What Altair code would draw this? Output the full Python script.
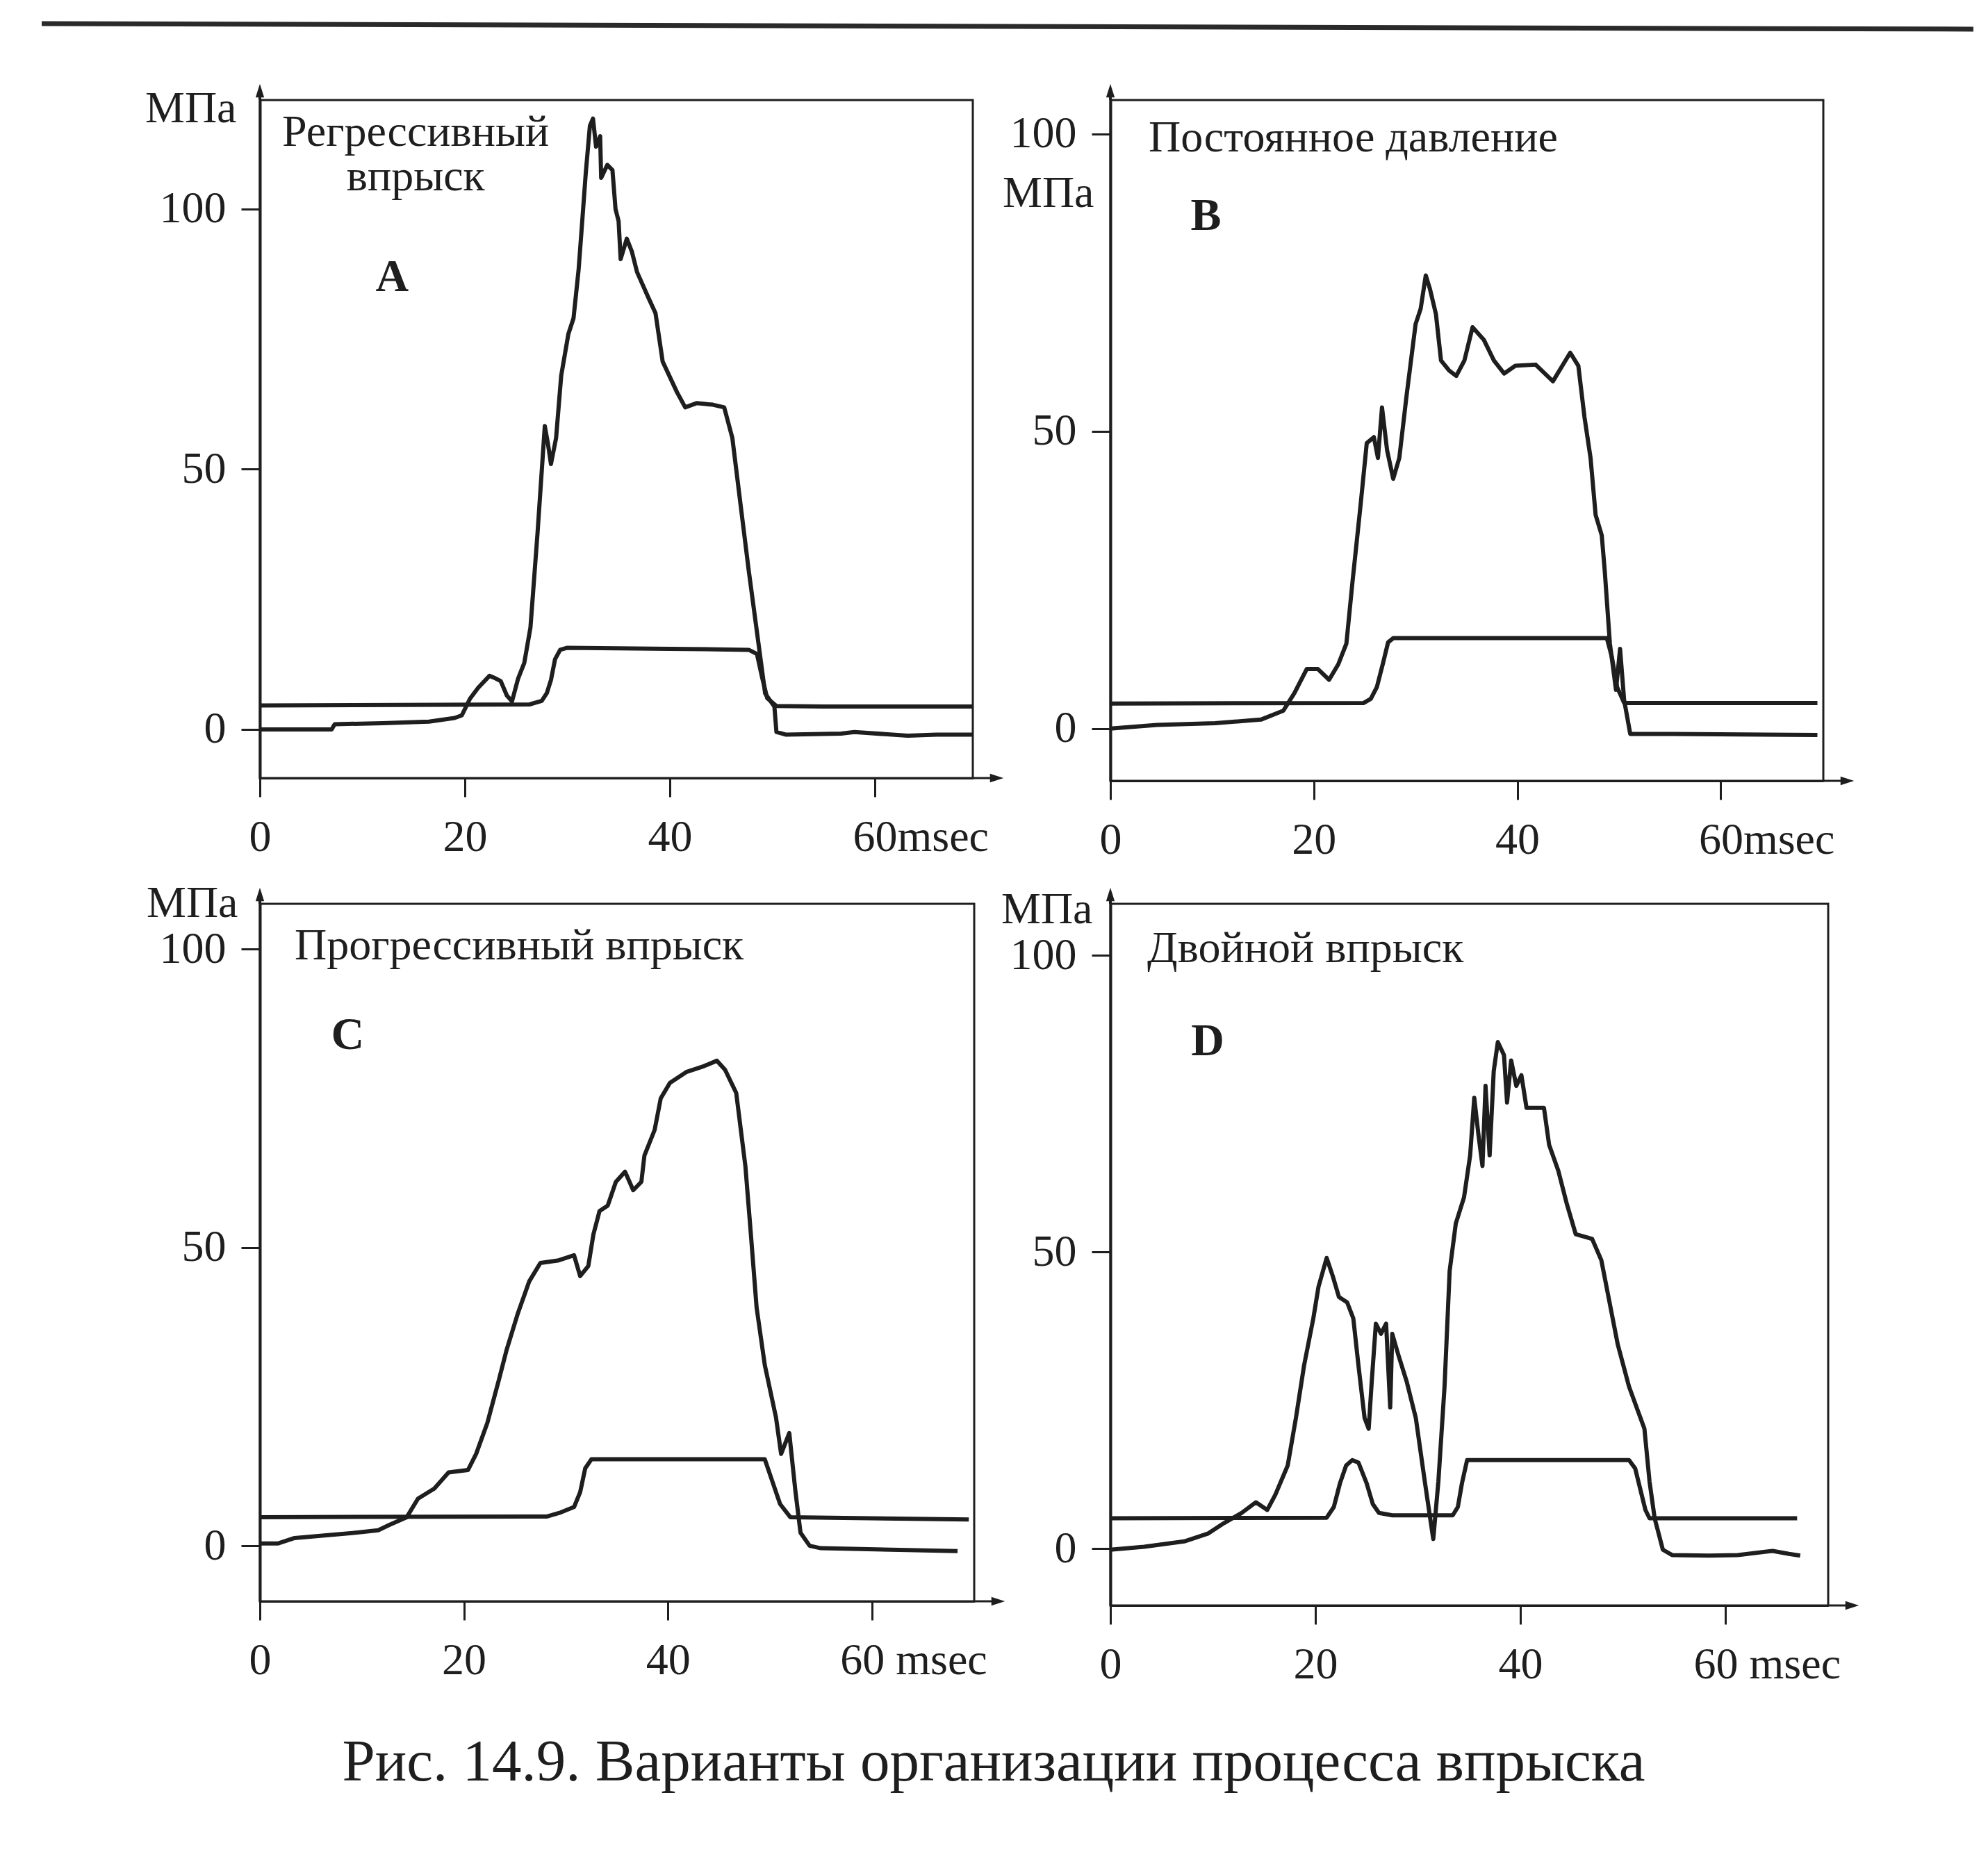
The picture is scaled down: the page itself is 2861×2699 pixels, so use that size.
import altair as alt
import pandas as pd

FONT = "Liberation Serif"
INK = "#1e1e1e"

# ---------------- data ----------------
# Panel A - regressive injection
A_t = [0, 7.0, 7.3, 12, 16.5, 19.0, 19.7, 20.5, 21.3, 22.4, 23.0, 23.5, 24.1, 24.6, 25.2, 25.8,
       26.4, 27.1, 27.8, 28.1, 28.4, 28.9, 29.4, 30.1, 30.6, 31.1, 31.4, 31.8, 32.2, 32.5, 32.8,
       33.2, 33.3, 33.9, 34.4, 34.7, 35.0, 35.2, 35.8, 36.3, 36.8, 37.9, 38.6, 39.3, 40.7, 41.5,
       42.6, 44.2, 45.3, 46.1, 46.9, 47.7, 48.5, 49.3, 49.8, 50.2, 50.4, 51.3, 56.7, 58, 63.2, 66, 69.5]
A_p = [0, 0, 1.0, 1.2, 1.5, 2.2, 2.7, 5.9, 8.0, 10.3, 9.8, 9.3, 6.5, 5.4, 9.8, 12.8,
       19.6, 38, 58.3, 55, 51, 56, 68, 76, 79, 88.4, 96.3, 107, 116, 117.4, 112,
       114, 106, 108.5, 107.5, 100, 97.7, 90.4, 94.3, 91.8, 87.9, 83, 80, 70.7, 64.8, 61.9,
       62.7, 62.4, 61.9, 56, 43.2, 30.5, 18.7, 6.9, 5.5, 4.4, -0.5, -1.0, -0.8, -0.5, -1.2, -1.0, -1.0]
A_lt = [0, 26.3, 27.5, 28.0, 28.4, 28.8, 29.3, 30, 40, 47.7, 48.5, 49.0, 49.5, 50.4, 55, 69.5]
A_l = [4.6, 4.8, 5.5, 7, 9.5, 13.5, 15.3, 15.7, 15.5, 15.3, 14.5, 10, 6, 4.5, 4.4, 4.4]

# Panel B - constant pressure
B_t = [0, 4.6, 10.3, 14.8, 17.0, 18.1, 19.3, 20.4, 21.5, 22.4, 23.2, 23.8, 24.6, 25.2, 25.9,
       26.3, 26.7, 27.2, 27.8, 28.4, 29.1, 30.0, 30.5, 31.0, 31.4, 32.0, 32.5, 33.3, 34.0, 34.8,
       35.6, 36.7, 37.7, 38.7, 39.8, 41.8, 43.5, 44.6, 45.2, 46.0, 46.6, 47.2, 47.7, 48.3, 48.6,
       49.1, 49.7, 50.1, 50.5, 51.1, 55.3, 69.5]
B_p = [0, 0.6, 0.9, 1.5, 3, 6, 10, 10, 8.2, 10.8, 14.3, 24.7, 37.7, 48, 49,
       45.5, 54, 46.8, 42, 45.5, 55.8, 68, 70.6, 76.2, 74, 69.7, 61.9, 60.2, 59.3, 61.9,
       67.5, 65.4, 61.9, 59.7, 61, 61.2, 58.4, 61.5, 63.2, 61, 52.4, 45.5, 35.9, 32.5, 26.4,
       14.3, 6.5, 13.4, 4.8, -0.9, -0.9, -1.1]
B_lt = [0, 24.9, 25.6, 26.2, 26.8, 27.3, 27.8, 48.8, 49.3, 49.8, 50.5, 69.5]
B_l = [4.2, 4.3, 5.0, 7, 11, 14.5, 15.2, 15.2, 12, 7, 4.3, 4.3]

# Panel C - progressive injection
C_t = [0, 1.8, 3.4, 6.7, 9.4, 11.6, 12.7, 14.4, 15.5, 17.1, 18.5, 20.4, 21.2, 22.3, 23.4,
       24.2, 25.3, 26.4, 27.5, 29.2, 30.8, 31.4, 32.2, 32.7, 33.3, 34.1, 34.9, 35.8, 36.6,
       37.4, 37.7, 38.7, 39.3, 40.2, 41.8, 43.4, 44.8, 45.6, 46.7, 47.6, 48.1, 48.7, 49.5,
       50.6, 51.1, 51.9, 52.5, 53.0, 53.9, 55.0, 68.4]
C_p = [0.4, 0.4, 1.3, 1.8, 2.2, 2.6, 3.5, 4.8, 7.9, 9.6, 12.3, 12.7, 15.4, 20.6, 27.6,
       32.9, 39, 44.3, 47.4, 47.8, 48.7, 45.2, 46.9, 52.2, 56.1, 57, 61, 62.7, 59.6,
       61, 65.4, 69.7, 75, 77.6, 79.4, 80.3, 81.3, 79.8, 75.9, 63.6, 53, 39.9, 30.3,
       21.5, 15.4, 18.9, 9.2, 2.2, 0, -0.4, -0.9]
C_lt = [0, 28.1, 29.5, 30.8, 31.4, 31.9, 32.5, 49.5, 50.2, 51.0, 52.0, 69.5]
C_l = [4.8, 4.9, 5.6, 6.5, 9, 13, 14.5, 14.5, 11, 7, 4.8, 4.4]

# Panel D - double injection
D_t = [0, 3.3, 7.2, 9.5, 11.1, 12.8, 14.2, 15.3, 16.1, 17.3, 18.1, 18.9, 19.8, 20.3, 21.1,
       21.7, 22.3, 23.1, 23.7, 24.2, 24.8, 25.2, 25.5, 25.9, 26.4, 26.9, 27.3, 27.5, 28.1,
       28.9, 29.8, 30.6, 31.2, 31.5, 32.0, 32.6, 33.1, 33.7, 34.5, 35.1, 35.5, 35.9, 36.3,
       36.6, 37.0, 37.4, 37.8, 38.4, 38.7, 39.1, 39.6, 40.1, 40.6, 42.3, 42.8, 43.7, 44.5,
       45.4, 47.0, 47.9, 48.7, 49.5, 50.6, 52.1, 52.6, 53.1, 53.9, 54.8, 58.4, 61.2, 64.6,
       66.2, 67.3]
D_p = [-0.2, 0.3, 1.2, 2.5, 4.3, 6, 7.8, 6.5, 9.1, 14, 22, 30.9, 38.8, 44.1, 49,
       45.9, 42.4, 41.5, 38.8, 30.9, 22, 20.2, 28.2, 37.9, 36.2, 37.9, 23.8, 36.2, 32.6,
       28.2, 22, 12.2, 5.1, 1.6, 11.3, 27.3, 46.8, 54.8, 59.2, 66.3, 76, 69.9, 64.5,
       78, 66.3, 80.5, 85.4, 83.2, 75.2, 82.3, 78, 79.8, 74.3, 74.3, 68.1, 63.7, 58.3,
       53, 52.2, 48.6, 41.5, 34.4, 27.3, 20.2, 11.3, 5.1, -0.2, -1.1, -1.2, -1.1, -0.4,
       -0.9, -1.2]
D_lt = [0, 21.1, 21.8, 22.4, 23.0, 23.6, 24.2, 25.0, 25.6, 26.2, 27.5, 33.4, 33.9, 34.3,
        34.8, 50.6, 51.2, 51.7, 52.2, 52.6, 67]
D_l = [5.1, 5.2, 7, 11, 14, 14.9, 14.5, 11, 7.5, 6, 5.6, 5.6, 7, 11,
       14.9, 14.9, 13.5, 10, 6.5, 5.1, 5.1]

X_TICKS = [0, 20, 40, 60]
Y_TICKS = [0, 50, 100]
Y_TITLE = "МПа"
CAPTION = "Рис. 14.9. Варианты организации процесса впрыска"

A_notes = ["Регрессивный", "впрыск"]
B_notes = ["Постоянное давление"]
C_notes = ["Прогрессивный впрыск"]
D_notes = ["Двойной впрыск"]


def panel(t_p, p, t_l, l, notes, note_t, note_v, note_align, letter, letter_t, letter_v,
          W, H, xmax, ymin, ymax, title_x, title_y, msec_label, msec_shift, extra=None):
    df = pd.DataFrame({
        "t": list(t_p) + list(t_l),
        "v": list(p) + list(l),
        "s": ["pressure"] * len(t_p) + ["lift"] * len(t_l),
    })
    xs = alt.Scale(domain=[0, xmax], nice=False, zero=False)
    ys = alt.Scale(domain=[ymin, ymax], nice=False, zero=False)
    xaxis = alt.Axis(
        values=X_TICKS, title=None, grid=False, tickSize=27, tickWidth=3,
        domainWidth=3, domainColor=INK, tickColor=INK,
        labelFont=FONT, labelFontSize=64, labelColor=INK, labelPadding=26,
        labelFlush=False, labelOverlap=False, labelLimit=0,
        labelExpr=f"datum.value == 60 ? '{msec_label}' : datum.label",
        labelAlign={"condition": {"test": "datum.value == 60", "value": "left"}, "value": "center"},
        labelOffset={"condition": {"test": "datum.value == 60", "value": msec_shift}, "value": 0},
    )
    yaxis = alt.Axis(
        values=Y_TICKS, title=Y_TITLE, titleAngle=0, titleAlign="right",
        titleBaseline="middle", titleX=title_x, titleY=title_y, titleFont=FONT,
        titleFontSize=64, titleFontWeight="normal", titleColor=INK,
        grid=False, tickSize=27, tickWidth=3, domainWidth=4, domainColor=INK,
        tickColor=INK, labelFont=FONT, labelFontSize=64, labelColor=INK,
        labelPadding=22, labelFlush=False, labelOverlap=False, labelLimit=0,
    )
    lines = alt.Chart(df).mark_line(color=INK, strokeWidth=6, strokeJoin="round").encode(
        x=alt.X("t:Q", scale=xs, axis=xaxis),
        y=alt.Y("v:Q", scale=ys, axis=yaxis),
        detail="s:N",
    )
    ndf = pd.DataFrame({"t": note_t, "v": note_v, "txt": notes})
    note_layer = alt.Chart(ndf).mark_text(
        font=FONT, fontSize=64, align=note_align, baseline="middle", color=INK
    ).encode(x="t:Q", y="v:Q", text="txt:N")
    ldf = pd.DataFrame({"t": [letter_t], "v": [letter_v], "txt": [letter]})
    letter_layer = alt.Chart(ldf).mark_text(
        font=FONT, fontSize=66, fontWeight="bold", align="center", baseline="middle", color=INK
    ).encode(x="t:Q", y="v:Q", text="txt:N")

    one = alt.Data(values=[{"k": 0}])
    y_arrow = alt.Chart(one).mark_rule(color=INK, strokeWidth=4).encode(
        x=alt.value(0), y=alt.value(-14), y2=alt.value(0))
    y_head = alt.Chart(one).mark_point(
        shape="M-0.6,0.9L0,-1L0.6,0.9Z", filled=True, size=420, color=INK, opacity=1
    ).encode(x=alt.value(0), y=alt.value(-13))
    x_arrow = alt.Chart(one).mark_rule(color=INK, strokeWidth=3).encode(
        x=alt.value(W), x2=alt.value(W + 30), y=alt.value(H))
    x_head = alt.Chart(one).mark_point(
        shape="M-0.9,-0.6L1,0L-0.9,0.6Z", filled=True, size=420, color=INK, opacity=1
    ).encode(x=alt.value(W + 34), y=alt.value(H))

    layers = [lines, note_layer, letter_layer, y_arrow, y_head, x_arrow, x_head]
    if extra is not None:
        layers.append(extra)
    return alt.layer(*layers).properties(width=W, height=H)


# decorative rule across the top of the scanned page
top_rule = alt.Chart(alt.Data(values=[{"k": 0}])).mark_rule(color="#2a2a2a", strokeWidth=7).encode(
    x=alt.value(-314), x2=alt.value(2466), y=alt.value(-110), y2=alt.value(-102))

pA = panel(A_t, A_p, A_lt, A_l, A_notes, [15.2, 15.2], [114.7, 106.1], "center", "A", 12.9, 86.9,
           1026, 976, 69.56, -9.35, 120.96, -34, 12, "60msec", -32, extra=top_rule)
pB = panel(B_t, B_p, B_lt, B_l, B_notes, [3.76], [99.3], "left", "B", 9.4, 86.2,
           1026, 980, 70.08, -8.8, 105.7, -24, 134, "60msec", -32)
pC = panel(C_t, C_p, C_lt, C_l, C_notes, [3.4], [100.5], "left", "C", 8.6, 85.6,
           1028, 1004, 70.03, -9.3, 107.6, -32, -1, "60 msec", -46)
pD = panel(D_t, D_p, D_lt, D_l, D_notes, [3.6], [101.1], "left", "D", 9.5, 85.5,
           1033, 1010, 70.03, -9.6, 108.7, -26, 8, "60 msec", -46)

chart = alt.concat(
    pA, pB, pC, pD, columns=2,
    spacing={"row": 147, "column": 191},
    bounds="flush", align="all",
    title=alt.TitleParams(
        text=CAPTION, orient="bottom", anchor="middle", frame="bounds",
        font=FONT, fontSize=85, fontWeight="normal", color=INK, offset=66, dx=-20,
    ),
).properties(
    padding={"left": 47, "top": 21, "right": 0, "bottom": 10},
    background="white",
).configure_view(stroke=INK, strokeWidth=3).configure_title(font=FONT)

chart.save("out.html", embed_options={"renderer": "svg", "actions": False})
